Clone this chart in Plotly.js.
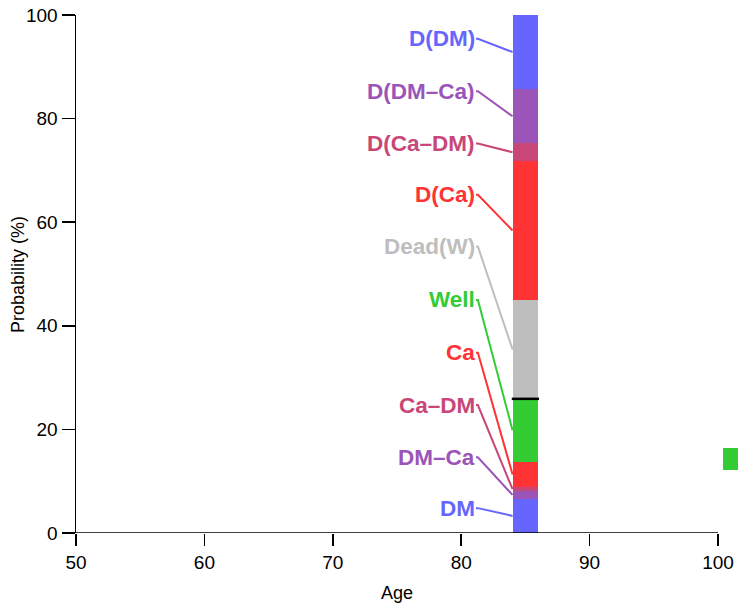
<!DOCTYPE html>
<html>
<head>
<meta charset="utf-8">
<script src="https://cdn.plot.ly/plotly-3.0.1.min.js"></script>
<style>html,body{margin:0;padding:0;background:#fff}#chart{width:738px;height:606px}</style>
</head>
<body>
<div id="chart"></div>
<script>
// States, bottom to top of the stacked bar
const categories = ["DM", "DM\u2013Ca", "Ca\u2013DM", "Ca", "Well", "Dead(W)", "D(Ca)", "D(Ca\u2013DM)", "D(DM\u2013Ca)", "D(DM)"];
const probabilities = [6.6, 1.5, 0.7, 5.0, 12.1, 19.1, 26.8, 3.4, 10.5, 14.3];
const colors = ["#6666FF", "#9B55B9", "#C94778", "#FF3333", "#33CC33", "#BEBEBE", "#FF3333", "#C94778", "#9B55B9", "#6666FF"];
const labelY = [4.8, 14.6, 24.7, 34.8, 45.0, 55.3, 65.3, 75.2, 85.3, 95.4];
const barAge = 85;
// partially visible neighbouring bar at the right edge
const extraAge = 101.4;
const extraBase = 12.2;
const extraValue = 4.3;
const xTicks = [50, 60, 70, 80, 90, 100];
const yTicks = [0, 20, 40, 60, 80, 100];

const barW = 2;
const bases = [];
let acc = 0;
for (const v of probabilities) { bases.push(acc); acc += v; }
const wellIdx = categories.indexOf("Well");
const wellTop = bases[wellIdx] + probabilities[wellIdx];

const traces = [];
categories.forEach((c, i) => {
  traces.push({
    type: "bar", x: [barAge], y: [probabilities[i]], base: [bases[i]], width: [barW],
    marker: {color: colors[i], line: {width: 0}}, hoverinfo: "skip", showlegend: false
  });
});
traces.push({
  type: "bar", x: [extraAge], y: [extraValue], base: [extraBase], width: [barW],
  marker: {color: "#33CC33", line: {width: 0}}, hoverinfo: "skip", showlegend: false
});
// leader lines
const lineStart = 81.15, hookEnd = 81.3, barLeft = barAge - barW / 2;
categories.forEach((c, i) => {
  const mid = bases[i] + probabilities[i] / 2;
  traces.push({
    type: "scatter", mode: "lines",
    x: [lineStart, hookEnd, barLeft], y: [labelY[i], labelY[i], mid],
    line: {color: colors[i], width: 2}, hoverinfo: "skip", showlegend: false, cliponaxis: false
  });
});
// black line at top of Well
traces.push({
  type: "scatter", mode: "lines",
  x: [barLeft - 0.06, barAge + barW / 2 + 0.06], y: [wellTop, wellTop],
  line: {color: "#000", width: 2.5}, hoverinfo: "skip", showlegend: false
});

const annotations = categories.map((c, i) => ({
  x: 81.2, y: labelY[i], xref: "x", yref: "y", text: "<b>" + c + "</b>",
  showarrow: false, xanchor: "right", yanchor: "middle",
  font: {family: "Liberation Sans, Arial, sans-serif", size: 22.5, color: colors[i]}
}));
annotations.push({
  xref: "paper", yref: "paper", x: (397 - 76) / 662, y: -(593 - 533) / 518,
  text: "Age", showarrow: false, xanchor: "center", yanchor: "middle",
  font: {family: "Liberation Sans, Arial, sans-serif", size: 18, color: "#000"}
});
annotations.push({
  xref: "paper", yref: "paper", x: (18 - 76) / 662, y: 0.5,
  text: "Probability (%)", textangle: -90, showarrow: false, xanchor: "center", yanchor: "middle",
  font: {family: "Liberation Sans, Arial, sans-serif", size: 18, color: "#000"}
});

const layout = {
  width: 738, height: 606,
  margin: {l: 76, r: 0, t: 15, b: 73, pad: 0},
  paper_bgcolor: "#fff", plot_bgcolor: "#fff",
  barmode: "overlay", bargap: 0,
  font: {family: "Liberation Sans, Arial, sans-serif", size: 19, color: "#000"},
  xaxis: {
    range: [50, 50 + 662 / 12.84], tickvals: xTicks, ticktext: xTicks.map(String),
    ticks: "outside", ticklen: 12, tickwidth: 1.5, tickcolor: "#000",
    showline: false, showgrid: false, zeroline: false,
    tickfont: {size: 19, color: "#000"}, fixedrange: true
  },
  yaxis: {
    range: [0, 100], tickvals: yTicks, ticktext: yTicks.map(String),
    ticks: "outside", ticklen: 13, tickwidth: 1.5, tickcolor: "#000",
    showline: true, linecolor: "#000", linewidth: 1.5,
    showgrid: false, zeroline: false,
    tickfont: {size: 19, color: "#000"}, fixedrange: true
  },
  shapes: [{
    type: "line", xref: "x", yref: "y", x0: xTicks[0], x1: xTicks[xTicks.length - 1], y0: 0, y1: 0,
    line: {color: "#000", width: 1.5}, layer: "above"
  }],
  annotations: annotations,
  showlegend: false
};

Plotly.newPlot("chart", traces, layout, {displayModeBar: false, staticPlot: true});
</script>
</body>
</html>
